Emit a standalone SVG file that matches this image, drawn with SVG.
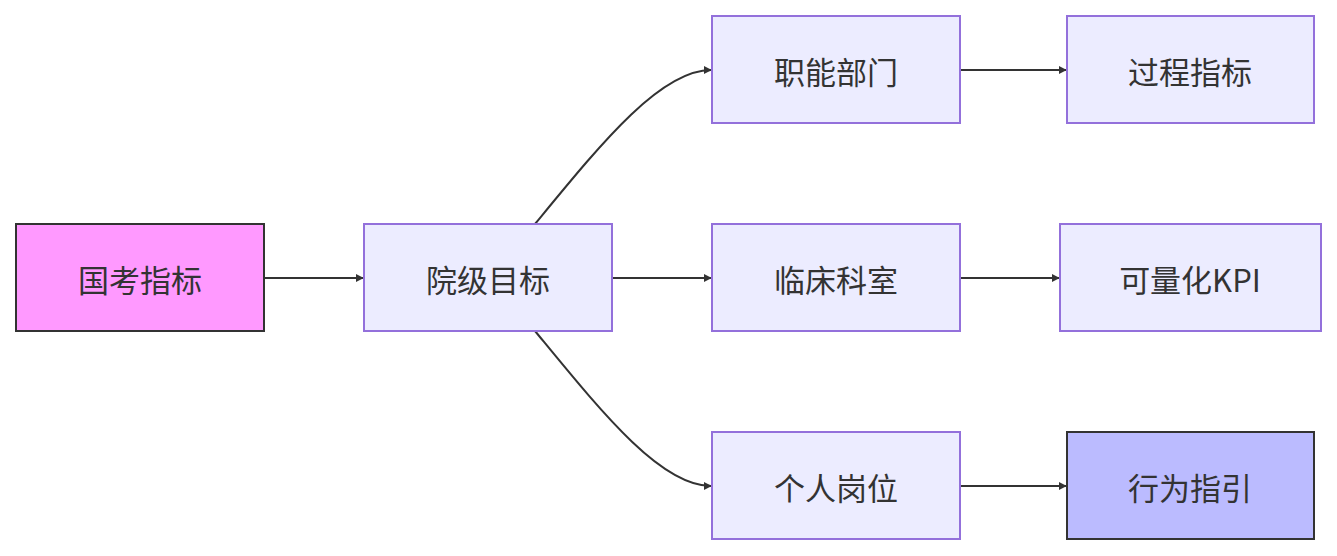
<svg xmlns="http://www.w3.org/2000/svg" width="1337" height="556" viewBox="0 0 1337 556">
<style>
.n rect{fill:#ECECFF;stroke:#9370DB;stroke-width:2}
.n text{font-family:"Noto Sans CJK SC","Noto Sans",sans-serif;font-size:31px;fill:#333;text-anchor:middle;dominant-baseline:central}
.e path{fill:none;stroke:#333;stroke-width:2;marker-end:url(#a)}
</style>
<defs><marker id="a" viewBox="0 0 10 10" refX="9" refY="5" markerWidth="8" markerHeight="8" markerUnits="userSpaceOnUse" orient="auto"><path d="M0,0L10,5L0,10z" fill="#333"/></marker></defs>
<rect width="1337" height="556" fill="#fff"/>
<g class="e">
<path d="M264,278H363"/>
<path d="M535,224C600,145 660,70 711,70"/>
<path d="M612,278H711"/>
<path d="M535,331C600,410 660,486 711,486"/>
<path d="M960,70H1066"/>
<path d="M960,278H1059"/>
<path d="M960,486H1066"/>
</g>
<g id="n1" class="n"><rect x="16" y="224" width="248" height="107" style="fill:#ff99ff;stroke:#333"/><text x="140" y="278">国考指标</text></g>
<g id="n2" class="n"><rect x="364" y="224" width="248" height="107"/><text x="488" y="278">院级目标</text></g>
<g id="n3" class="n"><rect x="712" y="16" width="248" height="107"/><text x="836" y="70">职能部门</text></g>
<g id="n4" class="n"><rect x="712" y="224" width="248" height="107"/><text x="836" y="278">临床科室</text></g>
<g id="n5" class="n"><rect x="712" y="432" width="248" height="107"/><text x="836" y="486">个人岗位</text></g>
<g id="n6" class="n"><rect x="1067" y="16" width="247" height="107"/><text x="1190" y="70">过程指标</text></g>
<g id="n7" class="n"><rect x="1060" y="224" width="261" height="107"/><text x="1190" y="278">可量化KPI</text></g>
<g id="n8" class="n"><rect x="1067" y="432" width="247" height="107" style="fill:#bbbbff;stroke:#333"/><text x="1190" y="486">行为指引</text></g>
</svg>
